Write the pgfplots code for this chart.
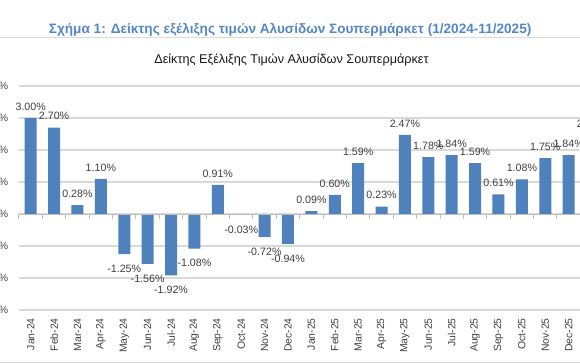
\documentclass[border=0pt]{standalone}
\usepackage{pgfplots}
\pgfplotsset{compat=1.18}
\usepackage{fontspec}
\setmainfont{Liberation Sans}
\definecolor{barblue}{RGB}{79,129,189}
\definecolor{titleblue}{RGB}{84,135,200}
\definecolor{lbl}{RGB}{64,64,64}
\definecolor{gridc}{RGB}{217,217,217}
\definecolor{axc}{RGB}{191,191,191}
\begin{document}
\begin{tikzpicture}
\fill[white] (0pt,0pt) rectangle (435pt,-272.25pt);
\draw[gridc, line width=0.75pt] (0pt,-28.3pt) -- (435pt,-28.3pt);
\draw[gridc, line width=0.75pt] (0pt,-271.5pt) -- (435pt,-271.5pt);
\node[font=\bfseries\fontsize{10.2}{12}\selectfont, text=titleblue, inner sep=0pt] at (217.6pt,-22.5pt) {Σχήμα 1: Δείκτης εξέλιξης τιμών Αλυσίδων Σουπερμάρκετ (1/2024-11/2025)};
\node[font=\fontsize{9.5}{11}\selectfont, text=black!90, inner sep=0pt] at (218.6pt,-45pt) {Δείκτης Εξέλιξης Τιμών Αλυσίδων Σουπερμάρκετ};
\begin{axis}[
  at={(14.25pt,-232.5pt)}, anchor=south west,
  scale only axis, width=438.56pt, height=168pt,
  ybar, bar width=9pt, bar shift=0pt,
  xmin=-0.5, xmax=24.5, ymin=-3, ymax=4,
  axis line style={draw=none},
  major tick length=0pt,
  ymajorgrids, grid style={gridc, line width=1pt},
  xtick={0,...,24},
  xticklabels={Jan-24,Feb-24,Mar-24,Apr-24,May-24,Jun-24,Jul-24,Aug-24,Sep-24,Oct-24,Nov-24,Dec-24,Jan-25,Feb-25,Mar-25,Apr-25,May-25,Jun-25,Jul-25,Aug-25,Sep-25,Oct-25,Nov-25,Dec-25,Jan-26},
  ytick={-3,...,4},
  yticklabels={-3.00\%,-2.00\%,-1.00\%,0.00\%,1.00\%,2.00\%,3.00\%,4.00\%},
  tick label style={font=\fontsize{7.8}{9}\selectfont, text=lbl},
  xticklabel style={rotate=90, anchor=east, inner xsep=6pt},
  yticklabel style={anchor=east, inner xsep=8pt},
  clip=false,
  /pgf/number format/assume math mode=true,
  nodes near coords={\pgfmathprintnumber[fixed,fixed zerofill,precision=2]{\pgfplotspointmeta}\%},
  nodes near coords style={font=\fontsize{8}{9}\selectfont, text=lbl, inner sep=0pt},
]
\addplot[fill=barblue, draw=none, every node near coord/.append style={anchor=center, yshift=8.6pt}] coordinates {
(0,3.00) (1,2.70) (2,0.28) (3,1.10) (8,0.91) (12,0.09) (13,0.60) (14,1.59) (15,0.23) (16,2.47) (17,1.78) (18,1.84) (19,1.59) (20,0.61) (21,1.08) (22,1.75) (23,1.84) (24,2.45)
};
\addplot[fill=barblue, draw=none, every node near coord/.append style={anchor=center, yshift=-10.9pt}] coordinates {
(4,-1.25) (5,-1.56) (6,-1.92) (7,-1.08) (9,-0.03) (10,-0.72) (11,-0.94)
};
\draw[axc, line width=0.75pt] (axis cs:-0.5,0) -- (axis cs:24.5,0);
\pgfplotsinvokeforeach{-0.5,0.5,...,24.5}{\draw[axc, line width=0.75pt] (axis cs:#1,0) -- ++(0pt,-3.75pt);}
\end{axis}
\pgfresetboundingbox
\path[use as bounding box] (0pt,0pt) rectangle (435pt,-272.25pt);
\end{tikzpicture}
\end{document}
